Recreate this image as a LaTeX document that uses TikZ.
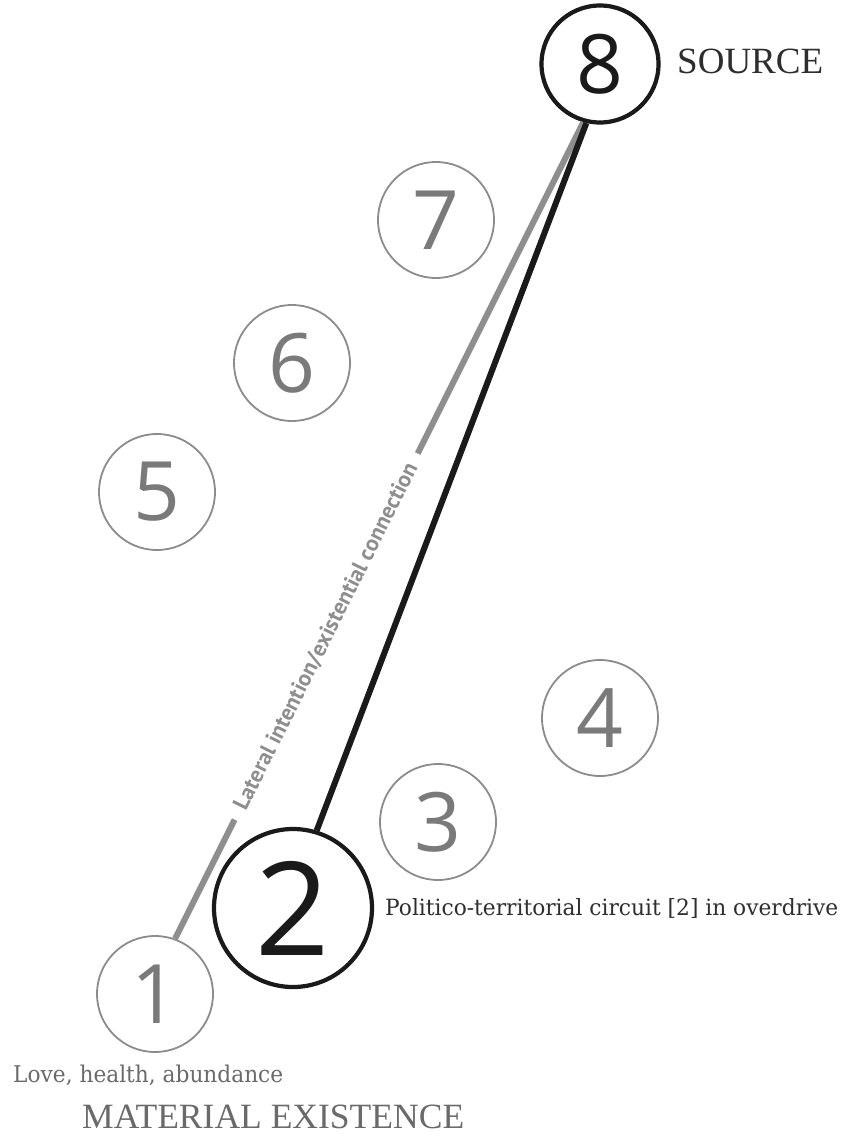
\documentclass[tikz,border=0pt]{standalone}
\usepackage{fontspec}
\usepackage{graphicx}
\newfontfamily\digitfont{Open Sans}
\newfontfamily\latfont{PT Sans}
\newfontfamily\labfont{DejaVu Serif}
\newfontfamily\capfont{Liberation Serif}
\definecolor{circgray}{HTML}{8C8C8C}
\definecolor{diggray}{HTML}{7A7A7A}
\definecolor{linegray}{HTML}{8E8E8E}
\definecolor{inkblack}{HTML}{1A1A1A}
\definecolor{labgray}{HTML}{2E2E2E}
\definecolor{softgray}{HTML}{6A6A6A}
\begin{document}
\begin{tikzpicture}[x=1pt,y=-1pt,
  minorc/.style={circle, draw=circgray, line width=1.8pt, minimum size=116pt, inner sep=0pt,
    text=diggray, font=\digitfont\fontsize{82pt}{82pt}\selectfont},
  majorc/.style={circle, draw=inkblack, line width=4.2pt, inner sep=0pt, text=inkblack},
  blackline/.style={draw=inkblack, line width=6pt},
  grayline/.style={draw=linegray, line width=6pt},
  lab/.style={inner sep=0pt, text=labgray},
]
\useasboundingbox[fill=white] (0,0) rectangle (849,1134);

\node[minorc] (n1) at (155,994) {1};
\node[majorc, minimum size=158pt, font=\digitfont\fontsize{130pt}{130pt}\selectfont] (n2) at (293,908) {2};
\node[minorc] (n3) at (438,822) {3};
\node[minorc] (n4) at (600,718) {4};
\node[minorc] (n5) at (157,492) {5};
\node[minorc] (n6) at (292,363) {6};
\node[minorc] (n7) at (436,220) {7};
\node[majorc, minimum size=117pt, font=\digitfont\fontsize{82pt}{82pt}\selectfont] (n8) at (600,64) {8};

\draw[grayline] (n1.70) -- (n8.-106)
  node[pos=0.37, sloped, fill=white, inner xsep=12pt, inner ysep=3pt, text=linegray]
  {\resizebox{385pt}{!}{\latfont\bfseries Lateral intention/existential connection}};
\draw[blackline] (n2.73) -- (n8.-103);

\node[lab, anchor=west] (src) at (677,61) {\resizebox{146pt}{!}{\capfont SOURCE}};
\node[lab, anchor=base west] (pol) at (385,915) {\resizebox{453pt}{17pt}{\labfont Politico-territorial circuit [2] in overdrive}};
\node[lab, anchor=base west, text=softgray] (love) at (13,1082) {\resizebox{270pt}{17.5pt}{\labfont Love, health, abundance}};
\node[lab, anchor=west, text=softgray] (mat) at (82,1117) {\resizebox{382pt}{!}{\capfont MATERIAL EXISTENCE}};
\end{tikzpicture}
\end{document}
